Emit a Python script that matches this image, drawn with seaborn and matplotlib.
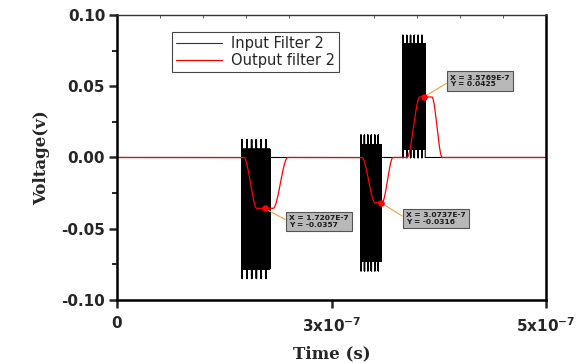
import numpy as np
import pandas as pd
import matplotlib
matplotlib.use("Agg")
import matplotlib.pyplot as plt
import seaborn as sns
from matplotlib.ticker import MultipleLocator, FixedLocator, FixedFormatter

# input bursts
burst_start = [1.455e-7, 2.842e-7, 3.331e-7]
burst_end = [1.785e-7, 3.080e-7, 3.592e-7]
burst_level = [-0.0362, -0.0319, 0.0428]
burst_amp = [0.0488, 0.0477, 0.0430]

# output filter: level and the start/end of each edge
out_level = [-0.0357, -0.0316, 0.0425]
out_on = [1.48e-7, 2.855e-7, 3.38e-7]
out_on_end = [1.63e-7, 3.007e-7, 3.53e-7]
out_off = [1.82e-7, 3.089e-7, 3.67e-7]
out_off_end = [1.99e-7, 3.217e-7, 3.79e-7]

# data cursors
marker_x = [1.7207e-7, 3.0737e-7, 3.5769e-7]
marker_y = [-0.0357, -0.0316, 0.0425]

t_max = 5e-7
xtick_vals = [0, 2.5e-7, 5e-7]
xtick_labels = ['0', r'$\mathbf{3x10^{-7}}$', r'$\mathbf{5x10^{-7}}$']
ytick_vals = [-0.10, -0.05, 0.00, 0.05, 0.10]
ytick_labels = ['-0.10', '-0.05', '0.00', '0.05', '0.10']

# build the input trace (dense carrier inside each burst)
n_cyc = 160
t_in = [0.0]
v_in = [0.0]
for s, e, lv, a in zip(burst_start, burst_end, burst_level, burst_amp):
    tt = np.linspace(s, e, 2 * n_cyc + 1)
    k = np.arange(tt.size)
    sign = np.where(k % 2 == 0, 1, -1)
    peak = np.where((k // 2) % 27 < 3, a, 0.86 * a)
    t_in += [s] + list(tt) + [e]
    v_in += [0.0] + list(lv + sign * peak) + [0.0]
t_in.append(t_max)
v_in.append(0.0)
df_in = pd.DataFrame({'t': t_in, 'v': v_in})


def smooth(t, a, b):
    s = np.clip((t - a) / (b - a), 0, 1)
    return s * s * (3 - 2 * s)


t_out = np.linspace(0, t_max, 3000)
v_out = np.zeros_like(t_out)
for lv, a, b, c, d in zip(out_level, out_on, out_on_end, out_off, out_off_end):
    v_out += lv * (smooth(t_out, a, b) - smooth(t_out, c, d))
df_out = pd.DataFrame({'t': t_out, 'v': v_out})

sns.set_style("ticks")
plt.rcParams['font.family'] = ['DejaVu Sans']

fig, ax = plt.subplots(figsize=(5.84, 3.63), dpi=100)
fig.subplots_adjust(left=0.2003, right=0.935, top=0.9587, bottom=0.1736)

sns.lineplot(data=df_in, x='t', y='v', color='black', lw=0.8, sort=False,
             estimator=None, label='Input Filter 2', ax=ax)
sns.lineplot(data=df_out, x='t', y='v', color='red', lw=0.9, sort=False,
             estimator=None, label='Output filter 2', ax=ax)

ax.scatter(marker_x, marker_y, s=14, color='red', zorder=5)
offsets = [(17.5, -9.5), (18.2, -11.5), (19, 11.5)]
for mx, my, off in zip(marker_x, marker_y, offsets):
    txt = 'X = %.4fE-7\nY = %.4f' % (mx * 1e7, my)
    ax.annotate(txt, xy=(mx, my), xytext=off, textcoords='offset points',
                ha='left', va='center', fontsize=5.4, color='#1a1a1a',
                fontweight='bold', linespacing=1.1,
                bbox=dict(boxstyle='square,pad=0.45', fc='#b8b8b8', ec='#555555', lw=0.8),
                arrowprops=dict(arrowstyle='-', color='#f5a040', lw=0.8,
                                relpos=(0, 0.5), shrinkA=0, shrinkB=0))

ax.set_xlim(0, t_max)
ax.set_ylim(-0.10, 0.10)
ax.xaxis.set_major_locator(FixedLocator(xtick_vals))
ax.xaxis.set_major_formatter(FixedFormatter(xtick_labels))
ax.yaxis.set_major_locator(FixedLocator(ytick_vals))
ax.yaxis.set_major_formatter(FixedFormatter(ytick_labels))
ax.xaxis.set_minor_locator(MultipleLocator(0.5e-7))
ax.yaxis.set_minor_locator(MultipleLocator(0.025))

ax.tick_params(axis='both', which='major', direction='out', length=5.5, width=1.8,
               labelsize=11, pad=3)
ax.tick_params(axis='x', which='major', pad=6)
ax.tick_params(axis='y', which='minor', direction='out', length=3.5, width=1.4, left=True)
ax.tick_params(axis='x', which='minor', bottom=False, top=True, direction='in',
               length=2, width=0.7, color='#555555')
for lab in ax.get_xticklabels() + ax.get_yticklabels():
    lab.set_fontweight('bold')

for side in ['left', 'bottom', 'right']:
    ax.spines[side].set_linewidth(1.8)
    ax.spines[side].set_color('black')
ax.spines['top'].set_linewidth(1.0)
ax.spines['top'].set_color('#333333')

ax.set_xlabel('Time (s)', family='DejaVu Serif', fontweight='bold', fontsize=12, labelpad=8)
ax.set_ylabel('Voltage(v)', family='DejaVu Serif', fontweight='bold', fontsize=12, labelpad=8)

leg = ax.legend(loc='upper left', bbox_to_anchor=(0.128, 0.94), frameon=True,
                fancybox=False, edgecolor='#444444', framealpha=1, fontsize=10.5,
                handlelength=3.2, borderpad=0.25, labelspacing=0.15,
                borderaxespad=0, handletextpad=0.6)
leg.get_frame().set_linewidth(0.8)
leg.get_lines()[0].set_color('#333333')

fig.savefig('out.png', dpi=100)
